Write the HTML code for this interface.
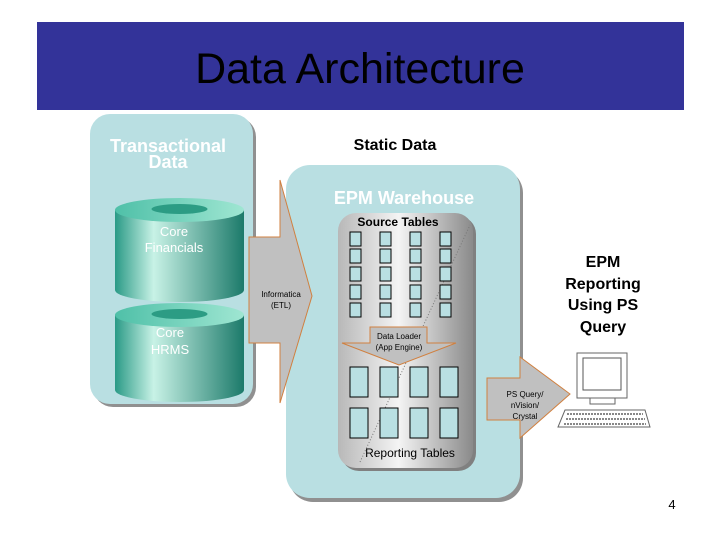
<!DOCTYPE html>
<html><head><meta charset="utf-8"><style>
body{margin:0;width:720px;height:540px;background:#fff;overflow:hidden}
</style></head><body>
<svg width="720" height="540" xmlns="http://www.w3.org/2000/svg" font-family="Liberation Sans, sans-serif">
<defs>
<linearGradient id="cyl" x1="0" x2="1" y1="0" y2="0">
<stop offset="0" stop-color="#2a9a86"/><stop offset="0.3" stop-color="#c8f2e6"/><stop offset="1" stop-color="#1c7a6a"/></linearGradient>
<linearGradient id="cyltop" x1="0" x2="1"><stop offset="0" stop-color="#4fc0a8"/><stop offset="1" stop-color="#9fe6d2"/></linearGradient>
<linearGradient id="gray" x1="0" x2="1" y1="0" y2="0">
<stop offset="0" stop-color="#b8b8b8"/><stop offset="0.45" stop-color="#f4f4f4"/><stop offset="1" stop-color="#8a8a8a"/></linearGradient>
</defs>
<rect x="37" y="22" width="647" height="88" fill="#333399"/>
<text x="360" y="83" font-size="43" text-anchor="middle" fill="#000">Data Architecture</text>
<rect x="93" y="117" width="163" height="290" rx="20" fill="#909090"/>
<rect x="90" y="114" width="163" height="290" rx="20" fill="#b9dfe2"/>
<text x="168" y="152" font-size="18" font-weight="bold" fill="#fff" text-anchor="middle">Transactional</text>
<text x="168" y="168" font-size="18" font-weight="bold" fill="#fff" text-anchor="middle">Data</text>
<g>
<path d="M115 210 V290 A64.5 12 0 0 0 244 290 V210 Z" fill="url(#cyl)"/>
<ellipse cx="179.5" cy="210" rx="64.5" ry="12" fill="url(#cyltop)"/>
<ellipse cx="179.5" cy="209" rx="28" ry="5" fill="#2c9c84"/>
<path d="M115 315 V390 A64.5 12 0 0 0 244 390 V315 Z" fill="url(#cyl)"/>
<ellipse cx="179.5" cy="315" rx="64.5" ry="12" fill="url(#cyltop)"/>
<ellipse cx="179.5" cy="314" rx="28" ry="5" fill="#2c9c84"/>
<text x="174" y="236" font-size="13" fill="#fff" text-anchor="middle">Core</text>
<text x="174" y="252" font-size="13" fill="#fff" text-anchor="middle">Financials</text>
<text x="170" y="337" font-size="13" fill="#fff" text-anchor="middle">Core</text>
<text x="170" y="354" font-size="13" fill="#fff" text-anchor="middle">HRMS</text>
</g>
<rect x="289" y="169" width="234" height="333" rx="24" fill="#909090"/>
<rect x="286" y="165" width="234" height="333" rx="24" fill="#b9dfe2"/>
<path d="M249 237 H280 V180 L312 296 L280 403 V343 H249 Z" fill="#c0c0c0" stroke="#d08040" stroke-width="1"/>
<text x="281" y="297" font-size="8" text-anchor="middle">Informatica</text>
<text x="281" y="308" font-size="8" text-anchor="middle">(ETL)</text>
<text x="404" y="204" font-size="18" font-weight="bold" fill="#fff" text-anchor="middle">EPM Warehouse</text>
<rect x="341" y="216" width="135" height="255" rx="18" fill="#808080"/>
<rect x="338" y="213" width="135" height="255" rx="18" fill="url(#gray)"/>
<line x1="360" y1="462" x2="470" y2="225" stroke="#777" stroke-dasharray="1,2"/>
<text x="398" y="226" font-size="12" font-weight="bold" text-anchor="middle">Source Tables</text>
<g fill="#b9dfe2" stroke="#000" stroke-width="1">
<rect x="350" y="232" width="11" height="14"/><rect x="380" y="232" width="11" height="14"/><rect x="410" y="232" width="11" height="14"/><rect x="440" y="232" width="11" height="14"/>
<rect x="350" y="249" width="11" height="14"/><rect x="380" y="249" width="11" height="14"/><rect x="410" y="249" width="11" height="14"/><rect x="440" y="249" width="11" height="14"/>
<rect x="350" y="267" width="11" height="14"/><rect x="380" y="267" width="11" height="14"/><rect x="410" y="267" width="11" height="14"/><rect x="440" y="267" width="11" height="14"/>
<rect x="350" y="285" width="11" height="14"/><rect x="380" y="285" width="11" height="14"/><rect x="410" y="285" width="11" height="14"/><rect x="440" y="285" width="11" height="14"/>
<rect x="350" y="303" width="11" height="14"/><rect x="380" y="303" width="11" height="14"/><rect x="410" y="303" width="11" height="14"/><rect x="440" y="303" width="11" height="14"/>
<rect x="350" y="367" width="18" height="30"/><rect x="380" y="367" width="18" height="30"/><rect x="410" y="367" width="18" height="30"/><rect x="440" y="367" width="18" height="30"/>
<rect x="350" y="408" width="18" height="30"/><rect x="380" y="408" width="18" height="30"/><rect x="410" y="408" width="18" height="30"/><rect x="440" y="408" width="18" height="30"/>
</g>
<path d="M370 327 H427 V343 H456 L399 365 L342 343 H370 Z" fill="#c0c0c0" stroke="#d08040"/>
<text x="399" y="339" font-size="8" text-anchor="middle">Data Loader</text>
<text x="399" y="350" font-size="8" text-anchor="middle">(App Engine)</text>
<text x="410" y="457" font-size="12" text-anchor="middle">Reporting Tables</text>
<path d="M487 378 H520 V357 L570 394 L520 438 V420 H487 Z" fill="#c0c0c0" stroke="#d08040"/>
<text x="525" y="397" font-size="8" text-anchor="middle">PS Query/</text>
<text x="525" y="408" font-size="8" text-anchor="middle">nVision/</text>
<text x="525" y="419" font-size="8" text-anchor="middle">Crystal</text>
<rect x="577" y="353" width="50" height="45" fill="#fff" stroke="#666"/>
<rect x="583" y="358" width="38" height="32" fill="#fff" stroke="#555"/>
<rect x="590" y="398" width="25" height="6" fill="#fff" stroke="#666"/>
<path d="M565 410 H645 L650 427 H558 Z" fill="#fff" stroke="#666"/>
<g stroke="#888" stroke-width="2" stroke-dasharray="2,1"><line x1="567" y1="414" x2="643" y2="414"/><line x1="566" y1="419" x2="645" y2="419"/><line x1="564" y1="424" x2="646" y2="424"/></g>
<text x="395" y="150" font-size="16" font-weight="bold" text-anchor="middle">Static Data</text>
<g font-size="16" font-weight="bold" text-anchor="middle">
<text x="603" y="267">EPM</text><text x="603" y="289">Reporting</text><text x="603" y="310">Using PS</text><text x="603" y="332">Query</text></g>
<text x="672" y="509" font-size="13" text-anchor="middle">4</text>
</svg>
</body></html>
